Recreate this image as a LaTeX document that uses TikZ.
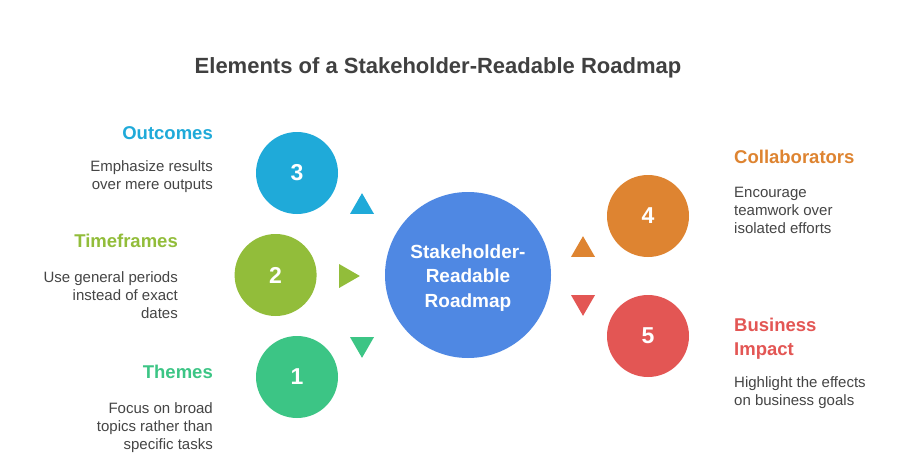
\documentclass[tikz,border=0pt]{standalone}
\usepackage{fontspec}
\setmainfont{Liberation Sans}
\usetikzlibrary{shapes.geometric, positioning}

\definecolor{titlegray}{HTML}{404040}
\definecolor{textgray}{HTML}{454545}
\definecolor{hubblue}{HTML}{4F88E3}
\definecolor{outcomeblue}{HTML}{1FAAD9}
\definecolor{timegreen}{HTML}{92BD3A}
\definecolor{themegreen}{HTML}{3CC585}
\definecolor{collaborange}{HTML}{DE8431}
\definecolor{impactred}{HTML}{E35654}

\tikzset{
    numcircle/.style={circle, fill=#1, minimum size=82pt, inner sep=0pt, text=white,
        font=\bfseries\fontsize{23}{23}\selectfont},
    pointer/.style={regular polygon, regular polygon sides=3, fill=#1,
        minimum size=27.7pt, inner sep=0pt},
    heading/.style={font=\bfseries\fontsize{18.5}{24}\selectfont, text=#1, inner sep=0pt},
    desc/.style={font=\fontsize{15}{18}\selectfont, text=textgray, inner sep=0pt},
}

\begin{document}
\begin{tikzpicture}[x=1pt, y=-1pt]
            \fill[white] (0,0) rectangle (912,463);
            \useasboundingbox (0,0) rectangle (912,463);

            \node[font=\bfseries\fontsize{22}{24}\selectfont, text=titlegray, anchor=base] (title) at (438,73)
                {Elements of a Stakeholder-Readable Roadmap};

            % central circle
            \node[circle, fill=hubblue, minimum size=166pt, inner sep=0pt] (hub) at (468,275) {};
            \node[align=center, text=white, inner sep=0pt, anchor=base,
                font=\bfseries\fontsize{19}{24.5}\selectfont] (hubtext) at (468,307)
                {Stakeholder-\\Readable\\Roadmap};

            % numbered circles
            \node[numcircle=outcomeblue] (c3) at (297,173) {3};
            \node[numcircle=timegreen, left=68pt of hub] (c2) {2};
            \node[numcircle=themegreen] (c1) at (297,377) {1};
            \node[numcircle=collaborange] (c4) at (648,216) {4};
            \node[numcircle=impactred] (c5) at (648,336) {5};

            % pointers
            \node[pointer=outcomeblue] (p3) at (362,207) {};
            \node[pointer=timegreen, regular polygon rotate=-90] (p2) at (346,276) {};
            \node[pointer=themegreen, regular polygon rotate=180] (p1) at (362,344) {};
            \node[pointer=collaborange] (p4) at (583,250) {};
            \node[pointer=impactred, regular polygon rotate=180] (p5) at (583,302) {};

            % left labels (anchored at the baseline of the last line)
            \node[heading=outcomeblue, anchor=base east] (h3) at (213,139) {Outcomes};
            \node[desc, anchor=base east, align=right] (d3) at (213,189)
                {Emphasize results\\over mere outputs};
            \node[heading=timegreen, anchor=base east] (h2) at (178,247) {Timeframes};
            \node[desc, anchor=base east, align=right] (d2) at (178,318)
                {Use general periods\\instead of exact\\dates};
            \node[heading=themegreen, anchor=base east] (h1) at (213,378) {Themes};
            \node[desc, anchor=base east, align=right] (d1) at (213,449)
                {Focus on broad\\topics rather than\\specific tasks};

            % right labels
            \node[heading=collaborange, anchor=base west] (h4) at (734,163) {Collaborators};
            \node[desc, anchor=base west, align=left] (d4) at (734,233)
                {Encourage\\teamwork over\\isolated efforts};
            \node[heading=impactred, anchor=base west, align=left] (h5) at (734,355)
                {Business\\Impact};
            \node[desc, anchor=base west, align=left] (d5) at (734,405)
                {Highlight the effects\\on business goals};
        \end{tikzpicture}
\end{document}
